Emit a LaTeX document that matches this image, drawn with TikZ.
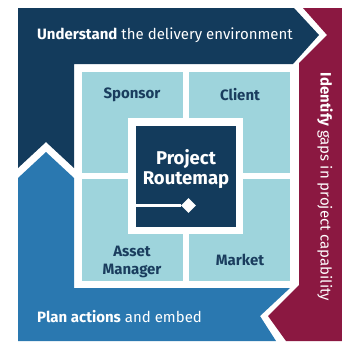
\documentclass[tikz,border=0pt]{standalone}
\usepackage{fontspec}
\setmainfont{Fira Sans}
\usetikzlibrary{shapes.geometric}
\definecolor{navy}{RGB}{19,59,92}
\definecolor{bandblue}{RGB}{42,120,176}
\definecolor{crimson}{RGB}{139,24,65}
\definecolor{cellblue}{RGB}{158,212,220}
\definecolor{celltext}{RGB}{26,61,94}
\tikzset{
  bandtext/.style={text=white, inner sep=0pt, font=\fontsize{15}{17}\selectfont},
  cellbox/.style={fill=cellblue},
  celllabel/.style={text=celltext, inner sep=0pt, align=center, font=\fontsize{15}{18}\selectfont\bfseries},
  titletext/.style={text=white, inner sep=0pt, align=center, font=\fontsize{18.5}{20.5}\selectfont\bfseries},
  marker/.style={diamond, fill=white, minimum size=15pt, inner sep=0pt},
  routeline/.style={draw=white, line width=3pt}
}
\begin{document}
\begin{tikzpicture}[x=1pt,y=-1pt]
\useasboundingbox (0,0) rectangle (342,341);
% bands
\fill[navy] (18,8) -- (294,8) -- (319,35) -- (293,64) -- (74,64) -- (74,168) -- (46,142) -- (18,168) -- cycle;
\fill[crimson] (303,8) -- (342,8) -- (342,341) -- (286,341) -- (268,316) -- (299,285) -- (299,63) -- (327,35) -- cycle;
\fill[bandblue] (18,178) -- (46,152) -- (74,178) -- (74,288) -- (290,288) -- (260,316) -- (276,341) -- (18,341) -- cycle;
% cells
\fill[cellbox] (82,72) rectangle (183,173);
\fill[cellbox] (189,72) rectangle (290,173);
\fill[cellbox] (82,179) rectangle (183,281);
\fill[cellbox] (189,179) rectangle (290,281);
% centre
\fill[white] (128,118) rectangle (243,234);
\fill[navy] (136,126) rectangle (236,227);
% texts
\node[bandtext, anchor=west] (understand) at (37,35) {\textbf{Understand} the delivery environment};
\node[bandtext, anchor=west] (plan) at (37,317) {\textbf{Plan actions} and embed};
\node[bandtext, rotate=-90] (identify) at (325,187) {\textbf{Identify} gaps in project capability};
\node[celllabel] (sponsor) at (132,95) {Sponsor};
\node[celllabel] (client) at (240,95) {Client};
\node[celllabel] (asset) at (132,262) {Asset\\Manager};
\node[celllabel] (market) at (240,260) {Market};
\node[titletext] (title) at (186,169) {Project\\Routemap};
% route marker
\node[marker] (dia) at (188.5,205.5) {};
\coordinate (routestart) at (136,205.5);
\draw[routeline] (routestart) -- (dia);
\end{tikzpicture}
\end{document}
